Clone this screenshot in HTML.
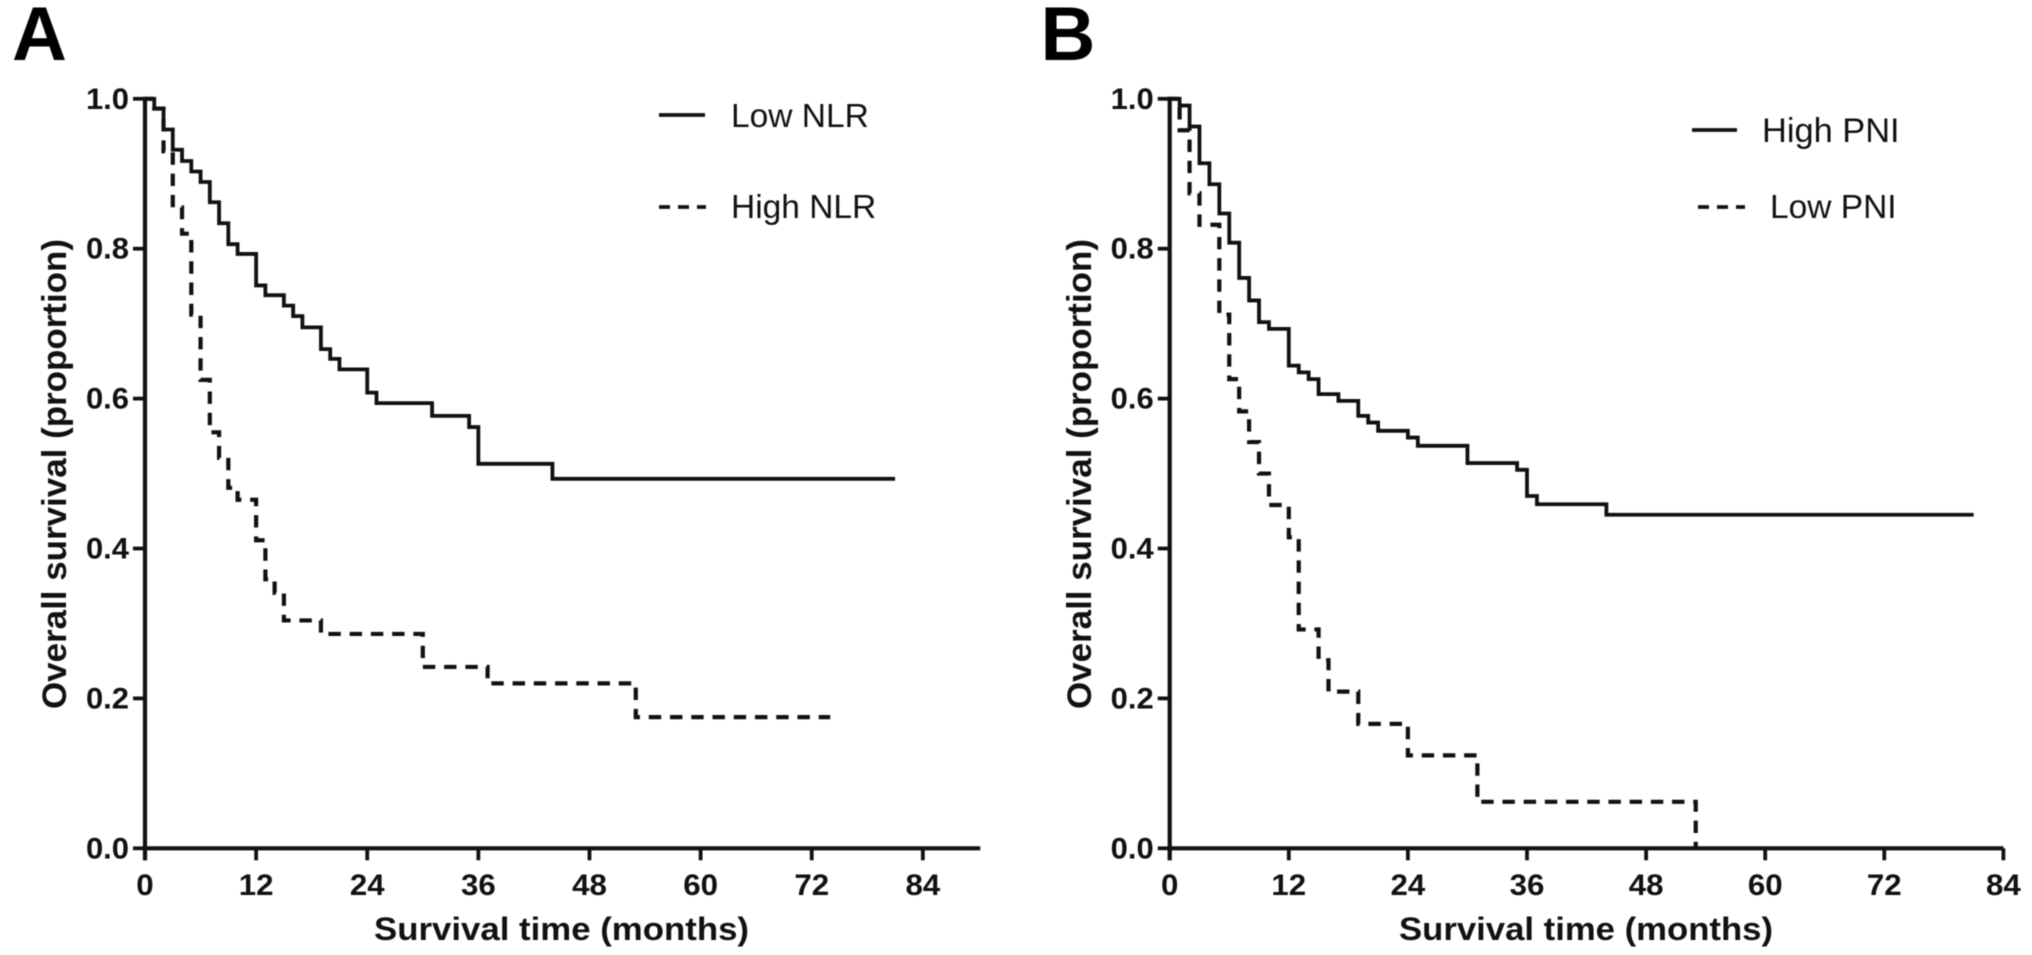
<!DOCTYPE html>
<html lang="en">
<head>
<meta charset="utf-8">
<title>Overall survival by NLR and PNI</title>
<style>
html,body{margin:0;padding:0;background:#fff;width:2032px;height:955px;overflow:hidden}
#figure{display:block;filter:blur(0.55px)}
text{font-family:"Liberation Sans",Arial,sans-serif;fill:#111}
.tick{font-weight:bold;font-size:29.5px}
.title{font-weight:bold;font-size:34.5px}
.xtitle{font-weight:bold;font-size:32px}
.legend{font-size:33.5px}
.panel{font-weight:bold;font-size:76px;fill:#000}
</style>
</head>
<body>
<svg id="figure" width="2032" height="955" viewBox="0 0 2032 955" xmlns="http://www.w3.org/2000/svg">
  <rect width="2032" height="955" fill="#fff"/>
  <g id="panel-a">
    <text class="panel" x="12" y="60">A</text>
    <text class="title" transform="translate(66 709) rotate(-90)" textLength="470" lengthAdjust="spacingAndGlyphs">Overall survival (proportion)</text>
    <text class="xtitle" x="374" y="940" textLength="375" lengthAdjust="spacingAndGlyphs">Survival time (months)</text>
    <line x1="659" x2="705" y1="115" y2="115" stroke="#111" stroke-width="3.8"/>
    <text class="legend" x="731" y="127">Low NLR</text>
    <line x1="659" x2="706" y1="207" y2="207" stroke="#111" stroke-width="3.8" stroke-dasharray="11 8"/>
    <text class="legend" x="731" y="218">High NLR</text>
  </g>
  <g id="panel-b">
    <text class="panel" x="1040.5" y="60">B</text>
    <text class="title" transform="translate(1091 709) rotate(-90)" textLength="470" lengthAdjust="spacingAndGlyphs">Overall survival (proportion)</text>
    <text class="xtitle" x="1399" y="940" textLength="374" lengthAdjust="spacingAndGlyphs">Survival time (months)</text>
    <line x1="1692" x2="1737" y1="130" y2="130" stroke="#111" stroke-width="3.8"/>
    <text class="legend" x="1762" y="142" style="font-size:34.4px">High PNI</text>
    <line x1="1698" x2="1745" y1="207" y2="207" stroke="#111" stroke-width="3.8" stroke-dasharray="11 8"/>
    <text class="legend" x="1770" y="218">Low PNI</text>
  </g>
</svg>
<script>
const xTickLabels = [0, 12, 24, 36, 48, 60, 72, 84];
const yTickLabels = [0.0, 0.2, 0.4, 0.6, 0.8, 1.0];

const lowNlrMonths = [1, 2, 3, 4, 5, 6, 7, 8, 9, 10, 12, 13, 15, 16, 17, 19, 20, 21, 24, 25, 31, 35, 36, 44];
const lowNlrSurvival = [0.987, 0.959, 0.932, 0.917, 0.903, 0.889, 0.862, 0.834, 0.806, 0.793, 0.751, 0.738, 0.724, 0.710, 0.695, 0.666, 0.653, 0.639, 0.608, 0.594, 0.577, 0.562, 0.513, 0.493];
const lowNlrEnd = 81;

const highNlrMonths = [1, 2, 3, 4, 5, 6, 7, 8, 9, 10, 12, 13, 14, 15, 19, 30, 37, 53];
const highNlrSurvival = [0.987, 0.930, 0.855, 0.820, 0.712, 0.625, 0.555, 0.521, 0.481, 0.465, 0.411, 0.359, 0.341, 0.304, 0.286, 0.242, 0.220, 0.175];
const highNlrEnd = 74;

const highPniMonths = [1, 2, 3, 4, 5, 6, 7, 8, 9, 10, 12, 13, 14, 15, 17, 19, 20, 21, 24, 25, 30, 35, 36, 37, 44];
const highPniSurvival = [0.991, 0.963, 0.914, 0.886, 0.847, 0.808, 0.761, 0.731, 0.702, 0.693, 0.644, 0.635, 0.626, 0.606, 0.597, 0.577, 0.568, 0.557, 0.548, 0.537, 0.514, 0.505, 0.470, 0.459, 0.445];
const highPniEnd = 81;

const lowPniMonths = [1, 2, 3, 5, 6, 7, 8, 9, 10, 12, 13, 15, 16, 19, 24, 31, 53];
const lowPniSurvival = [0.958, 0.874, 0.832, 0.712, 0.626, 0.583, 0.542, 0.500, 0.458, 0.415, 0.292, 0.251, 0.209, 0.166, 0.124, 0.062, 0.000];
const lowPniEnd = 53;

const SVG_NS = 'http://www.w3.org/2000/svg';

function make(tag, parent, attrs) {
  const el = document.createElementNS(SVG_NS, tag);
  Object.keys(attrs).forEach(function (k) { el.setAttribute(k, attrs[k]); });
  parent.appendChild(el);
  return el;
}

function drawAxes(parent, prefix, xScale, yScale, xMax) {
  const xAxis = make('line', parent, {x1: xScale(0), x2: xScale(xMax), y1: yScale(0), y2: yScale(0), stroke: '#111', 'stroke-width': 4.2});
  
  
  const yAxis = make('line', parent, {x1: xScale(0), x2: xScale(0), y1: yScale(1) - 2, y2: yScale(0) + 12, stroke: '#111', 'stroke-width': 4.2});
  
  
  xTickLabels.forEach(function (v) {
    const px = xScale(v);
    const tick = make('line', parent, {x1: px, x2: px, y1: yScale(0), y2: yScale(0) + 12, stroke: '#111', 'stroke-width': 3.8});
    
    
    const label = make('text', parent, {transform: 'translate(' + px + ' 895) scale(1.06 1)', 'text-anchor': 'middle', class: 'tick'});
    label.textContent = String(v);
    
    
  });
  yTickLabels.forEach(function (v) {
    const py = yScale(v);
    const tick = make('line', parent, {x1: xScale(0) - 12, x2: xScale(0), y1: py, y2: py, stroke: '#111', 'stroke-width': 3.8});
    
    
    const label = make('text', parent, {transform: 'translate(' + (xScale(0) - 16) + ' ' + (py + 10) + ') scale(1.05 1)', 'text-anchor': 'end', class: 'tick'});
    label.textContent = v.toFixed(1);
    
    
  });
}

function stepPath(months, survival, end, xScale, yScale) {
  let d = 'M' + xScale(0) + ' ' + yScale(1);
  let level = 1;
  months.forEach(function (m, i) {
    d += ' L' + xScale(m) + ' ' + yScale(level);
    level = survival[i];
    d += ' L' + xScale(m) + ' ' + yScale(level);
  });
  d += ' L' + xScale(end) + ' ' + yScale(level);
  return d;
}

function drawSeries(parent, name, months, survival, end, xScale, yScale, dash, offset) {
  const path = make('path', parent, {d: stepPath(months, survival, end, xScale, yScale), fill: 'none', stroke: '#111', 'stroke-width': 3.8, 'stroke-linejoin': 'miter'});
  if (dash) {
    path.setAttribute('stroke-dasharray', dash);
    path.setAttribute('stroke-dashoffset', offset);
    path.setAttribute('stroke-width', '4.2');
  }
  
  
}

function yScaleShared(v) { return 848.3 - v * 749.5; }
function xScaleA(m) { return 145 + m * 9.26; }
function xScaleB(m) { return 1169.7 + m * 9.925; }

const gA = document.getElementById('panel-a');
const gB = document.getElementById('panel-b');

drawAxes(gA, 'panel-a', xScaleA, yScaleShared, 90.2);
drawSeries(gA, 'series-high-nlr', highNlrMonths, highNlrSurvival, highNlrEnd, xScaleA, yScaleShared, '12.4 8.84', 3.6);
drawSeries(gA, 'series-low-nlr', lowNlrMonths, lowNlrSurvival, lowNlrEnd, xScaleA, yScaleShared, null, 0);

drawAxes(gB, 'panel-b', xScaleB, yScaleShared, 84);
drawSeries(gB, 'series-low-pni', lowPniMonths, lowPniSurvival, lowPniEnd, xScaleB, yScaleShared, '12.4 8.8', 3);
drawSeries(gB, 'series-high-pni', highPniMonths, highPniSurvival, highPniEnd, xScaleB, yScaleShared, null, 0);
</script>
</body>
</html>
